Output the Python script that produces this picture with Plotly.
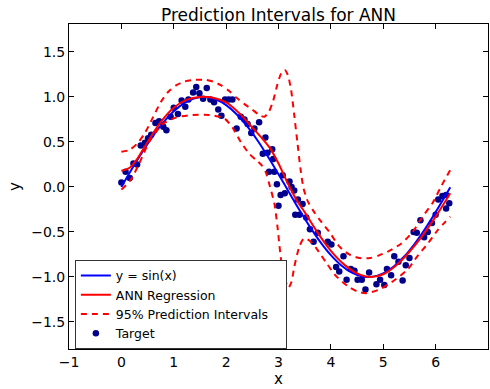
import plotly.graph_objects as go

# ---- data ----
sin_x = [0.0, 0.2, 0.4, 0.6, 0.8, 1.0, 1.2, 1.4, 1.6, 1.8, 2.0, 2.2, 2.4, 2.6, 2.8, 3.0,
         3.2, 3.4, 3.6, 3.8, 4.0, 4.2, 4.4, 4.6, 4.8, 5.0, 5.2, 5.4, 5.6, 5.8, 6.0, 6.2, 6.28]
sin_y = [0.000, 0.199, 0.389, 0.565, 0.717, 0.841, 0.932, 0.985, 1.000, 0.974, 0.909, 0.808,
         0.675, 0.516, 0.335, 0.141, -0.058, -0.256, -0.443, -0.612, -0.757, -0.872, -0.952,
         -0.994, -0.996, -0.959, -0.883, -0.773, -0.631, -0.465, -0.279, -0.083, -0.003]

ann_x = [0.00, 0.15, 0.30, 0.50, 0.75, 1.00, 1.25, 1.50, 1.75, 2.00, 2.25, 2.50, 2.70, 2.85,
         3.00, 3.17, 3.35, 3.50, 3.75, 4.00, 4.25, 4.50, 4.75, 5.00, 5.25, 5.50, 5.75, 6.00, 6.28]
ann_y = [0.18, 0.21, 0.31, 0.50, 0.72, 0.88, 0.97, 1.00, 0.99, 0.94, 0.82, 0.66, 0.53, 0.42,
         0.26, 0.05, -0.15, -0.28, -0.51, -0.71, -0.86, -0.96, -1.00, -0.97, -0.87, -0.72,
         -0.54, -0.33, -0.07]

upper_x = [0.00, 0.15, 0.30, 0.45, 0.60, 0.75, 0.90, 1.05, 1.20, 1.40, 1.60, 1.75, 1.90, 2.05,
           2.20, 2.35, 2.50, 2.63, 2.73, 2.82, 2.90, 2.98, 3.05, 3.12, 3.18, 3.24, 3.30, 3.36,
           3.42, 3.48, 3.56, 3.66, 3.78, 3.97, 4.16, 4.35, 4.55, 4.75, 4.92, 5.08, 5.34, 5.56,
           5.75, 5.94, 6.10, 6.28]
upper_y = [0.39, 0.41, 0.48, 0.60, 0.77, 0.94, 1.06, 1.13, 1.17, 1.19, 1.19, 1.17, 1.13, 1.07,
           0.99, 0.92, 0.86, 0.80, 0.78, 0.84, 0.96, 1.14, 1.26, 1.30, 1.24, 1.08, 0.80, 0.50,
           0.20, -0.02, -0.16, -0.26, -0.36, -0.50, -0.66, -0.75, -0.79, -0.79, -0.76, -0.72,
           -0.63, -0.50, -0.33, -0.18, 0.00, 0.19]

lower_x = [0.00, 0.18, 0.34, 0.53, 0.79, 1.04, 1.36, 1.68, 1.97, 2.12, 2.28, 2.44, 2.57, 2.68,
           2.76, 2.82, 2.92, 2.98, 3.02, 3.05, 3.12, 3.19, 3.25, 3.30, 3.40, 3.49, 3.60, 3.72,
           3.91, 4.10, 4.32, 4.50, 4.67, 4.92, 5.18, 5.46, 5.65, 5.85, 6.04, 6.28]
lower_y = [-0.03, 0.08, 0.26, 0.50, 0.70, 0.77, 0.80, 0.80, 0.76, 0.66, 0.50, 0.37, 0.30, 0.24,
           0.16, 0.04, -0.18, -0.44, -0.66, -0.81, -1.02, -1.12, -1.05, -0.89, -0.66, -0.57,
           -0.60, -0.68, -0.84, -0.99, -1.10, -1.16, -1.18, -1.14, -1.05, -0.92, -0.77, -0.63,
           -0.48, -0.33]

target_x = [0.00, 0.08, 0.16, 0.23, 0.30, 0.37, 0.45, 0.51, 0.57, 0.65, 0.72, 0.80, 0.86, 0.94,
            1.00, 1.08, 1.15, 1.22, 1.28, 1.37, 1.43, 1.49, 1.56, 1.63, 1.70, 1.77, 1.85, 1.91,
            1.98, 2.05, 2.12, 2.20, 2.28, 2.35, 2.41, 2.48, 2.54, 2.63, 2.70, 2.75, 2.79, 2.82,
            2.88, 2.90, 2.92, 2.97, 3.00, 3.04, 3.08, 3.12, 3.21, 3.25, 3.30, 3.32, 3.37, 3.40,
            3.46, 3.53, 3.60, 3.67, 3.75, 3.94, 4.01, 4.10, 4.16, 4.24, 4.30, 4.38, 4.45, 4.51,
            4.59, 4.66, 4.73, 4.87, 4.94, 5.02, 5.07, 5.15, 5.21, 5.29, 5.37, 5.43, 5.50, 5.58,
            5.64, 5.71, 5.78, 5.85, 5.93, 6.00, 6.05, 6.13, 6.20, 6.20, 6.26]
target_y = [0.05, 0.17, 0.10, 0.26, 0.25, 0.46, 0.49, 0.54, 0.58, 0.71, 0.73, 0.67, 0.63, 0.78,
            0.88, 0.81, 0.96, 0.89, 0.97, 1.05, 1.11, 1.04, 0.98, 1.10, 0.97, 0.94, 0.86, 0.79,
            0.97, 0.97, 0.97, 0.65, 0.78, 0.75, 0.70, 0.60, 0.65, 0.72, 0.37, 0.55, 0.38, 0.17,
            0.42, 0.31, 0.17, 0.03, -0.21, -0.09, 0.13, -0.07, 0.06, 0.00, -0.04, -0.31, -0.14,
            -0.31, -0.19, -0.34, -0.47, -0.61, -0.51, -0.61, -0.64, -0.89, -0.94, -0.77, -1.03,
            -0.91, -0.93, -1.03, -1.03, -1.14, -0.95, -1.08, -1.03, -1.09, -0.91, -0.98, -0.77,
            -0.83, -1.04, -0.87, -0.79, -0.50, -0.51, -0.37, -0.56, -0.50, -0.40, -0.31, -0.14,
            -0.10, -0.09, -0.24, -0.18]

x_ticks = [-1, 0, 1, 2, 3, 4, 5, 6, 7]
y_ticks = [-1.5, -1.0, -0.5, 0.0, 0.5, 1.0, 1.5]

FONT = "DejaVu Sans"
RED = "#ff0000"
BLUE = "#0000ff"
PAD = "\u00a0\u00a0\u00a0"  # widens the legend box like the reference

fig = go.Figure()

fig.add_trace(go.Scatter(
    x=target_x, y=target_y, mode="markers", name="Target",
    marker=dict(color="#00008b", size=6.5, line=dict(width=0)),
    legendrank=4))

fig.add_trace(go.Scatter(
    x=sin_x, y=sin_y, mode="lines", name="y = sin(x)",
    line=dict(color=BLUE, width=2, shape="spline"), legendrank=1))

fig.add_trace(go.Scatter(
    x=ann_x, y=ann_y, mode="lines", name="ANN Regression",
    line=dict(color=RED, width=2, shape="spline", smoothing=0.8), legendrank=2))

fig.add_trace(go.Scatter(
    x=upper_x, y=upper_y, mode="lines", name="95% Prediction Intervals" + PAD,
    line=dict(color=RED, width=2, dash="6px,5px", shape="spline", smoothing=0.7),
    legendgroup="pi", legendrank=3))

fig.add_trace(go.Scatter(
    x=lower_x, y=lower_y, mode="lines", name="95% Prediction Intervals",
    line=dict(color=RED, width=2, dash="6px,5px", shape="spline", smoothing=0.7),
    legendgroup="pi", showlegend=False))

axis_common = dict(
    showgrid=False, zeroline=False, showline=True, linecolor="black", linewidth=1,
    mirror="allticks", ticks="inside", ticklen=5, tickcolor="black", tickwidth=1,
    tickfont=dict(family=FONT, size=14, color="black"), automargin=False,
)

fig.update_layout(
    width=490, height=389,
    margin=dict(l=69, r=2, t=24, b=40),
    paper_bgcolor="white", plot_bgcolor="white",
    font=dict(family=FONT, color="black"),
    title=dict(text="Prediction Intervals for ANN", x=0.5, xref="paper",
               y=0.962, yref="container", yanchor="middle",
               font=dict(family=FONT, size=17, color="black")),
    xaxis=dict(range=[-1, 7], tickvals=x_ticks,
               ticktext=[("−" + str(-v)) if v < 0 else str(v) for v in x_ticks],
               title=dict(text="x", font=dict(family=FONT, size=15, color="black"), standoff=0),
               **axis_common),
    yaxis=dict(range=[-1.8, 1.81], tickvals=y_ticks,
               ticktext=[("−" if v < 0 else "") + f"{abs(v):.1f}" for v in y_ticks],
               title=dict(text="y", font=dict(family=FONT, size=15, color="black"), standoff=6),
               **axis_common),
    legend=dict(x=0.014, y=0.274, xanchor="left", yanchor="top",
                bgcolor="white", bordercolor="#333333", borderwidth=1,
                font=dict(family=FONT, size=12.5, color="black"),
                itemwidth=30, tracegroupgap=0),
    showlegend=True,
)

fig.write_html("out.html",
               config={"displayModeBar": False},
               post_script="document.body.style.margin='0';document.body.style.padding='0';")
